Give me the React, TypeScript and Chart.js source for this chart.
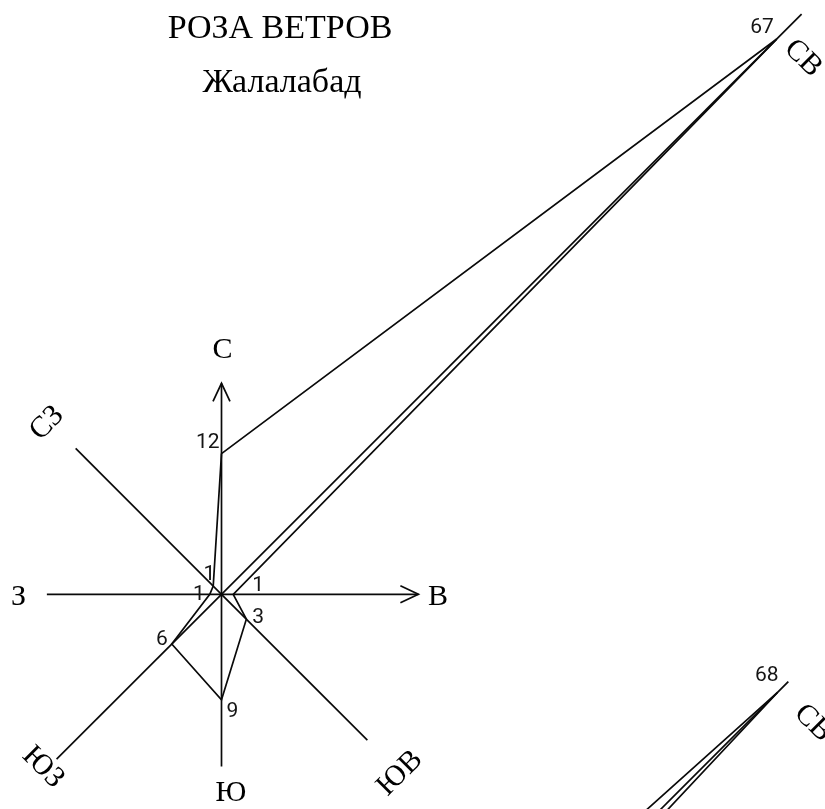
import React, { useEffect, useRef } from "react";
import { Chart, registerables } from "chart.js";

Chart.register(...registerables);

// ---------- DATA ----------
const titleText = "РОЗА ВЕТРОВ";
const subtitleText = "Жалалабад";

const directions = ["С", "СВ", "В", "ЮВ", "Ю", "ЮЗ", "З", "СЗ"];
const directionAngles = [0, 45, 90, 135, 180, 225, 270, 315];
const jalalabadValues = [12, 67, 1, 3, 9, 6, 1, 1];
const jalalabadAxisLengths = [18, 70, 16.8, 17.6, 14.7, 19.9, 14.9, 17.6];

// second wind rose (only its north-east tip is on the page)
const secondRoseDirections = ["С", "СВ", "В"];
const secondRoseAngles = [0, 45, 90];
const secondRoseValues = [5, 68, 3];
const secondRoseAxisLength = 69.3;

// ---------- LAYOUT ----------
const W = 825;
const H = 809;
const PX = 11.72; // pixels per unit
const CX = 221.5;
const CY = 594.3;
const ROSE1 = { x: 0, y: 0 };
const ROSE2 = { x: (214 - CX) / PX, y: -(1256 - CY) / PX };
const ARROW_BACK = 18 / PX;
const ARROW_HALF = 8.5 / PX;
const INK = "#0a0a0a";

const rad = (d: number) => (d * Math.PI) / 180;
const polar = (c: { x: number; y: number }, v: number, deg: number) => ({
  x: c.x + v * Math.sin(rad(deg)),
  y: c.y + v * Math.cos(rad(deg)),
});

// label offsets in px relative to each point
const rose1ValueLabelStyle = [
  { dx: -2, dy: -6, align: "right" },
  { dx: -3, dy: -6, align: "right" },
  { dx: 19, dy: -3, align: "left" },
  { dx: 6, dy: 4, align: "left" },
  { dx: 5, dy: 17, align: "left" },
  { dx: -4, dy: 1, align: "right" },
  { dx: -5, dy: 6, align: "right" },
  { dx: 2, dy: -6, align: "right" },
];
const rose1DirLabelStyle = [
  { dx: 1, dy: -244, rot: 0 },
  { dx: 581.5, dy: -536, rot: 45 },
  { dx: 216.5, dy: 3, rot: 0 },
  { dx: 178.5, dy: 179, rot: -45 },
  { dx: 9.5, dy: 199, rot: 0 },
  { dx: -178.5, dy: 173, rot: 45 },
  { dx: -203, dy: 3, rot: 0 },
  { dx: -174.5, dy: -171, rot: -45 },
];
const rose2NEValueStyle = { dx: 1, dy: -11, align: "right" };
const rose2NEDirStyle = { dx: 599, dy: -533, rot: 45 };

function lineDs(data: { x: number; y: number }[]) {
  return {
    data,
    showLine: true,
    borderColor: INK,
    backgroundColor: INK,
    borderWidth: 1.7,
    pointRadius: 0,
    tension: 0,
    fill: false,
  };
}

export default function App() {
  const ref = useRef<HTMLCanvasElement | null>(null);

  useEffect(() => {
    if (!ref.current) return;

    const datasets: any[] = [];
    // rose 1 axes
    directionAngles.forEach((a, i) => {
      datasets.push(lineDs([ROSE1, polar(ROSE1, jalalabadAxisLengths[i], a)]));
    });
    // arrow heads (N and E)
    const nTip = polar(ROSE1, jalalabadAxisLengths[0], 0);
    datasets.push(
      lineDs([
        { x: nTip.x - ARROW_HALF, y: nTip.y - ARROW_BACK },
        nTip,
        { x: nTip.x + ARROW_HALF, y: nTip.y - ARROW_BACK },
      ])
    );
    const eTip = polar(ROSE1, jalalabadAxisLengths[2], 90);
    datasets.push(
      lineDs([
        { x: eTip.x - ARROW_BACK, y: eTip.y + ARROW_HALF },
        eTip,
        { x: eTip.x - ARROW_BACK, y: eTip.y - ARROW_HALF },
      ])
    );
    // rose 1 polygon
    const poly1 = jalalabadValues.map((v, i) => polar(ROSE1, v, directionAngles[i]));
    datasets.push(lineDs([...poly1, poly1[0]]));

    // rose 2 (partial)
    datasets.push(lineDs([ROSE2, polar(ROSE2, secondRoseAxisLength, 45)]));
    const poly2 = secondRoseValues.map((v, i) => polar(ROSE2, v, secondRoseAngles[i]));
    datasets.push(lineDs(poly2));

    const textPlugin = {
      id: "roseText",
      afterDatasetsDraw(chart: any) {
        const ctx = chart.ctx as CanvasRenderingContext2D;
        const xs = chart.scales.x;
        const ys = chart.scales.y;
        const px = (p: { x: number; y: number }) => ({
          x: xs.getPixelForValue(p.x),
          y: ys.getPixelForValue(p.y),
        });
        ctx.save();
        ctx.fillStyle = "#000";
        // title
        ctx.font = "34px 'Liberation Serif', 'Times New Roman', serif";
        ctx.textAlign = "center";
        ctx.textBaseline = "alphabetic";
        ctx.fillText(titleText, 280, 38);
        ctx.fillText(subtitleText, 282, 92);

        // direction labels
        const drawDir = (text: string, c: { x: number; y: number }, s: any) => {
          const cp = px(c);
          ctx.save();
          ctx.translate(cp.x + s.dx, cp.y + s.dy);
          ctx.rotate(rad(s.rot));
          ctx.font = "30px 'Liberation Serif', 'Times New Roman', serif";
          ctx.textAlign = "center";
          ctx.textBaseline = "middle";
          ctx.fillText(text, 0, 0);
          ctx.restore();
        };
        directions.forEach((d, i) => drawDir(d, ROSE1, rose1DirLabelStyle[i]));
        drawDir(secondRoseDirections[1], ROSE2, rose2NEDirStyle);

        // value labels
        ctx.font = "21px Roboto, 'DejaVu Sans', sans-serif";
        ctx.fillStyle = "#151515";
        ctx.textBaseline = "alphabetic";
        const drawVal = (v: number, p: { x: number; y: number }, s: any) => {
          const pp = px(p);
          ctx.textAlign = s.align;
          ctx.fillText(String(v), pp.x + s.dx, pp.y + s.dy);
        };
        jalalabadValues.forEach((v, i) => drawVal(v, poly1[i], rose1ValueLabelStyle[i]));
        drawVal(secondRoseValues[1], poly2[1], rose2NEValueStyle);
        ctx.restore();
      },
    };

    const chart = new Chart(ref.current, {
      type: "scatter",
      data: { datasets },
      options: {
        animation: false,
        responsive: false,
        maintainAspectRatio: false,
        devicePixelRatio: 1,
        events: [],
        layout: { padding: 0 },
        plugins: { legend: { display: false }, tooltip: { enabled: false }, title: { display: false } },
        scales: {
          x: { type: "linear", display: false, min: -CX / PX, max: (W - CX) / PX },
          y: { type: "linear", display: false, min: -(H - CY) / PX, max: CY / PX },
        },
      },
      plugins: [textPlugin],
    });
    return () => chart.destroy();
  }, []);

  return (
    <div style={{ position: "absolute", left: 0, top: 0, width: W, height: H, background: "#fff" }}>
      <canvas ref={ref} width={W} height={H} style={{ display: "block" }} />
    </div>
  );
}
